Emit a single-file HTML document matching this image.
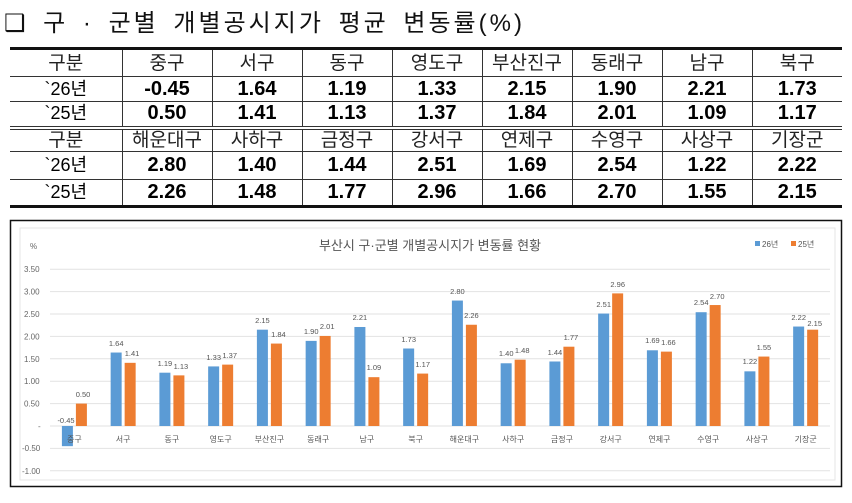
<!DOCTYPE html>
<html><head><meta charset="utf-8">
<style>
body{margin:0;width:852px;height:503px;background:#fff;position:relative;overflow:hidden;font-family:"Liberation Sans","Noto Sans CJK KR",sans-serif}
.t{position:absolute;left:4px;top:3px;font-size:24px;color:#111;letter-spacing:3px;word-spacing:5px;font-family:"Liberation Sans","Noto Sans CJK KR",sans-serif}
table{position:absolute;left:10px;top:47px;border-collapse:collapse;table-layout:fixed;width:832px}
td{border-left:1px solid #333;border-bottom:1px solid #333;text-align:center;padding:0;font-size:19px;line-height:19px;overflow:hidden;white-space:nowrap}
td:first-child{border-left:none}
.h td{font-weight:normal;color:#222}
.n td{font-weight:bold;font-family:"Liberation Sans Narrow","Liberation Sans",sans-serif;font-size:20px}
.n td:first-child{font-weight:normal;font-family:"Liberation Sans","Noto Sans CJK KR",sans-serif;font-size:18px}
</style></head><body>
<div class="t">❑ 구 · 군별 개별공시지가 평균 변동률(%)</div>
<table>
<colgroup><col style="width:112px"><col span="8" style="width:90px"></colgroup>
<tr class="h" style="height:28px"><td style="border-top:3px solid #111">구분</td><td style="border-top:3px solid #111">중구</td><td style="border-top:3px solid #111">서구</td><td style="border-top:3px solid #111">동구</td><td style="border-top:3px solid #111">영도구</td><td style="border-top:3px solid #111">부산진구</td><td style="border-top:3px solid #111">동래구</td><td style="border-top:3px solid #111">남구</td><td style="border-top:3px solid #111">북구</td></tr>
<tr class="n" style="height:25px"><td>`26년</td><td>-0.45</td><td>1.64</td><td>1.19</td><td>1.33</td><td>2.15</td><td>1.90</td><td>2.21</td><td>1.73</td></tr>
<tr class="n" style="height:26px"><td style="border-bottom:4px double #333">`25년</td><td style="border-bottom:4px double #333">0.50</td><td style="border-bottom:4px double #333">1.41</td><td style="border-bottom:4px double #333">1.13</td><td style="border-bottom:4px double #333">1.37</td><td style="border-bottom:4px double #333">1.84</td><td style="border-bottom:4px double #333">2.01</td><td style="border-bottom:4px double #333">1.09</td><td style="border-bottom:4px double #333">1.17</td></tr>
<tr class="h" style="height:24px"><td>구분</td><td>해운대구</td><td>사하구</td><td>금정구</td><td>강서구</td><td>연제구</td><td>수영구</td><td>사상구</td><td>기장군</td></tr>
<tr class="n" style="height:28px"><td>`26년</td><td>2.80</td><td>1.40</td><td>1.44</td><td>2.51</td><td>1.69</td><td>2.54</td><td>1.22</td><td>2.22</td></tr>
<tr class="n" style="height:27px"><td style="border-bottom:3px solid #111">`25년</td><td style="border-bottom:3px solid #111">2.26</td><td style="border-bottom:3px solid #111">1.48</td><td style="border-bottom:3px solid #111">1.77</td><td style="border-bottom:3px solid #111">2.96</td><td style="border-bottom:3px solid #111">1.66</td><td style="border-bottom:3px solid #111">2.70</td><td style="border-bottom:3px solid #111">1.55</td><td style="border-bottom:3px solid #111">2.15</td></tr>
</table>
<svg style="position:absolute;left:0;top:0" width="852" height="503" font-family="Liberation Sans, Noto Sans CJK KR, sans-serif">
<rect x="10.5" y="220.5" width="831" height="266" fill="#fff" stroke="#111" stroke-width="1.5"/>
<rect x="20" y="228" width="815" height="252" fill="none" stroke="#e6e6e6"/>
<g stroke="#e2e2e2" stroke-width="1">
<line x1="50" x2="830" y1="269.2" y2="269.2"/><line x1="50" x2="830" y1="291.6" y2="291.6"/><line x1="50" x2="830" y1="314" y2="314"/><line x1="50" x2="830" y1="336.4" y2="336.4"/><line x1="50" x2="830" y1="358.8" y2="358.8"/><line x1="50" x2="830" y1="381.2" y2="381.2"/><line x1="50" x2="830" y1="403.6" y2="403.6"/><line x1="50" x2="830" y1="426" y2="426"/><line x1="50" x2="830" y1="448.4" y2="448.4"/><line x1="50" x2="830" y1="470.8" y2="470.8"/>
</g>
<g font-size="8" fill="#666">
<text x="30" y="249">%</text>
<text x="24" y="272">3.50</text><text x="24" y="294.5">3.00</text><text x="24" y="317">2.50</text><text x="24" y="339.5">2.00</text><text x="24" y="362">1.50</text><text x="24" y="384">1.00</text><text x="24" y="406.5">0.50</text><text x="38" y="429">-</text><text x="22" y="451">-0.50</text><text x="22" y="474">-1.00</text>
</g>
<text x="430" y="250" font-size="13" fill="#555" text-anchor="middle">부산시 구·군별 개별공시지가 변동률 현황</text>
<rect x="755" y="241" width="5" height="5" fill="#5b9bd5"/><text x="762" y="247" font-size="8" fill="#555">26년</text>
<rect x="791" y="241" width="5" height="5" fill="#ed7d31"/><text x="798" y="247" font-size="8" fill="#555">25년</text>
<g transform="translate(0,426) scale(1,-1)">
<g fill="#5b9bd5">
<rect x="61.9" y="-20.16" width="11" height="20.16"/>
<rect x="110.65" y="0" width="11" height="73.47"/>
<rect x="159.4" y="0" width="11" height="53.31"/>
<rect x="208.15" y="0" width="11" height="59.58"/>
<rect x="256.9" y="0" width="11" height="96.32"/>
<rect x="305.65" y="0" width="11" height="85.12"/>
<rect x="354.4" y="0" width="11" height="99.01"/>
<rect x="403.15" y="0" width="11" height="77.5"/>
<rect x="451.9" y="0" width="11" height="125.44"/>
<rect x="500.65" y="0" width="11" height="62.72"/>
<rect x="549.4" y="0" width="11" height="64.51"/>
<rect x="598.15" y="0" width="11" height="112.45"/>
<rect x="646.9" y="0" width="11" height="75.71"/>
<rect x="695.65" y="0" width="11" height="113.79"/>
<rect x="744.4" y="0" width="11" height="54.66"/>
<rect x="793.15" y="0" width="11" height="99.46"/>
</g>
<g fill="#ed7d31">
<rect x="75.9" y="0" width="11" height="22.4"/>
<rect x="124.65" y="0" width="11" height="63.17"/>
<rect x="173.4" y="0" width="11" height="50.62"/>
<rect x="222.15" y="0" width="11" height="61.38"/>
<rect x="270.9" y="0" width="11" height="82.43"/>
<rect x="319.65" y="0" width="11" height="90.05"/>
<rect x="368.4" y="0" width="11" height="48.83"/>
<rect x="417.15" y="0" width="11" height="52.42"/>
<rect x="465.9" y="0" width="11" height="101.25"/>
<rect x="514.65" y="0" width="11" height="66.3"/>
<rect x="563.4" y="0" width="11" height="79.3"/>
<rect x="612.15" y="0" width="11" height="132.61"/>
<rect x="660.9" y="0" width="11" height="74.37"/>
<rect x="709.65" y="0" width="11" height="120.96"/>
<rect x="758.4" y="0" width="11" height="69.44"/>
<rect x="807.15" y="0" width="11" height="96.32"/>
</g>
</g>
<g font-size="7.5" fill="#555" text-anchor="middle">
<text x="66" y="423">-0.45</text>
<text x="116.2" y="346">1.64</text><text x="164.9" y="366">1.19</text><text x="213.7" y="360">1.33</text><text x="262.4" y="323">2.15</text><text x="311.2" y="334">1.90</text><text x="359.9" y="320">2.21</text><text x="408.7" y="342">1.73</text><text x="457.4" y="294">2.80</text><text x="506.2" y="356">1.40</text><text x="554.9" y="355">1.44</text><text x="603.7" y="307">2.51</text><text x="652.4" y="343">1.69</text><text x="701.2" y="305">2.54</text><text x="749.9" y="364">1.22</text><text x="798.7" y="320">2.22</text>
<text x="83" y="397">0.50</text><text x="132" y="356">1.41</text><text x="180.9" y="369">1.13</text><text x="229.7" y="358">1.37</text><text x="278.4" y="337">1.84</text><text x="327.2" y="329">2.01</text><text x="373.9" y="370">1.09</text><text x="422.7" y="367">1.17</text><text x="471.4" y="318">2.26</text><text x="522.2" y="353">1.48</text><text x="570.9" y="340">1.77</text><text x="617.7" y="287">2.96</text><text x="668.4" y="345">1.66</text><text x="717.2" y="299">2.70</text><text x="763.9" y="350">1.55</text><text x="814.7" y="326">2.15</text>
</g>
<g font-size="8" fill="#555" text-anchor="middle">
<text x="74.4" y="442">중구</text><text x="123.15" y="442">서구</text><text x="171.9" y="442">동구</text><text x="220.65" y="442">영도구</text><text x="269.4" y="442">부산진구</text><text x="318.15" y="442">동래구</text><text x="366.9" y="442">남구</text><text x="415.65" y="442">북구</text><text x="464.4" y="442">해운대구</text><text x="513.15" y="442">사하구</text><text x="561.9" y="442">금정구</text><text x="610.65" y="442">강서구</text><text x="659.4" y="442">연제구</text><text x="708.15" y="442">수영구</text><text x="756.9" y="442">사상구</text><text x="805.65" y="442">기장군</text>
</g>
</svg>
</body></html>
